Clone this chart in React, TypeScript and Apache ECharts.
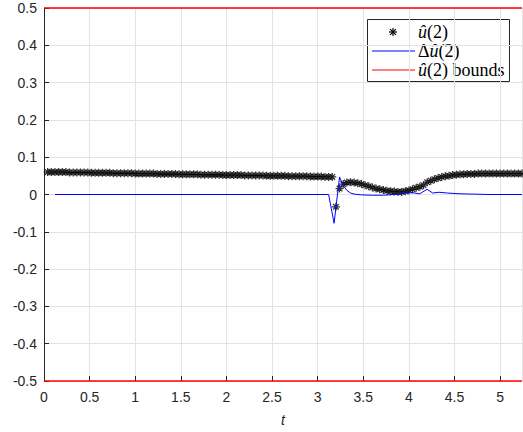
import React, { useEffect, useRef } from 'react';
import * as echarts from 'echarts';

// sample times of the û(2) markers
const uHatTimes = [
  0.04, 0.08, 0.12, 0.16, 0.2, 0.24, 0.28, 0.32, 0.36, 0.4,
  0.44, 0.48, 0.52, 0.56, 0.6, 0.64, 0.68, 0.72, 0.76, 0.8,
  0.84, 0.88, 0.92, 0.96, 1.0, 1.04, 1.08, 1.12, 1.16, 1.2,
  1.24, 1.28, 1.32, 1.36, 1.4, 1.44, 1.48, 1.52, 1.56, 1.6,
  1.64, 1.68, 1.72, 1.76, 1.8, 1.84, 1.88, 1.92, 1.96, 2.0,
  2.04, 2.08, 2.12, 2.16, 2.2, 2.24, 2.28, 2.32, 2.36, 2.4,
  2.44, 2.48, 2.52, 2.56, 2.6, 2.64, 2.68, 2.72, 2.76, 2.8,
  2.84, 2.88, 2.92, 2.96, 3.0, 3.04, 3.08, 3.12, 3.16,
  3.2, 3.24, 3.28, 3.32, 3.36, 3.4, 3.44, 3.48,
  3.52, 3.56, 3.6, 3.64, 3.68, 3.72, 3.76, 3.8, 3.84, 3.88, 3.92, 3.96,
  4.0, 4.04, 4.08, 4.12, 4.16, 4.2, 4.24, 4.28, 4.32, 4.36, 4.4, 4.44, 4.48,
  4.52, 4.56, 4.6, 4.64, 4.68, 4.72, 4.76, 4.8, 4.84, 4.88, 4.92, 4.96, 5.0,
  5.04, 5.08, 5.12, 5.16, 5.2, 5.24,
];
const uHatValues = [
  0.060, 0.060, 0.060, 0.060, 0.060, 0.060, 0.059, 0.059, 0.059, 0.059,
  0.059, 0.059, 0.058, 0.058, 0.058, 0.058, 0.058, 0.058, 0.057, 0.057,
  0.057, 0.057, 0.057, 0.057, 0.056, 0.056, 0.056, 0.056, 0.056, 0.056,
  0.055, 0.055, 0.055, 0.055, 0.055, 0.055, 0.054, 0.054, 0.054, 0.054,
  0.054, 0.054, 0.053, 0.053, 0.053, 0.053, 0.053, 0.053, 0.052, 0.052,
  0.052, 0.052, 0.052, 0.052, 0.051, 0.051, 0.051, 0.051, 0.051, 0.051,
  0.050, 0.050, 0.050, 0.050, 0.050, 0.050, 0.049, 0.049, 0.049, 0.049,
  0.049, 0.049, 0.048, 0.048, 0.048, 0.048, 0.047, 0.047, 0.047,
  -0.033, 0.016, 0.028, 0.032, 0.033, 0.032, 0.030, 0.028,
  0.025, 0.022, 0.019, 0.016, 0.014, 0.012, 0.010, 0.009, 0.008, 0.007, 0.007, 0.009,
  0.011, 0.014, 0.018, 0.021, 0.025, 0.033, 0.037, 0.041, 0.044, 0.047, 0.049, 0.050, 0.052,
  0.053, 0.054, 0.054, 0.055, 0.055, 0.055, 0.056, 0.056, 0.056, 0.056, 0.056, 0.056, 0.056,
  0.056, 0.056, 0.056, 0.056, 0.056, 0.056,
];

// Δû(2)
const deltaTimes = [0.12, 3.12, 3.18, 3.24, 3.28, 3.32, 3.36, 3.4, 3.48, 3.6, 3.72, 3.84, 3.92, 4.01, 4.06, 4.12, 4.2, 4.26, 4.33, 4.42, 4.55, 4.7, 4.9, 5.24];
const deltaValues = [0, 0, -0.077, 0.047, 0.024, 0.011, 0.004, 0.001, -0.001, -0.002, -0.002, 0, 0.003, 0.006, 0.004, 0.002, 0.014, 0.004, 0.006, 0.004, 0.002, 0.001, 0, 0];

// bounds
const boundTimes = [0, 5.24];
const upperBound = 0.5;
const lowerBound = -0.5;

const X_MIN = 0;
const X_MAX = 5.24;

const ASTERISK = 'path://M10 0L10 20M0 10L20 10M2.93 2.93L17.07 17.07M17.07 2.93L2.93 17.07';

const AXIS_COLOR = '#262626';
const GRID_COLOR = '#e3e3e3';
const SANS = '"Liberation Sans", Arial, sans-serif';
const SERIF = '"Liberation Serif", "Times New Roman", serif';

function buildOption() {
  const uHatData = uHatTimes.map((t, i) => [t, uHatValues[i]]);
  const deltaData = deltaTimes.map((t, i) => [t, deltaValues[i]]);
  const upperData = boundTimes.map((t) => [t, upperBound]);
  const lowerData = boundTimes.map((t) => [t, lowerBound]);

  const legendX = 367.5;
  const legendY = 19.5;
  const rows = [32, 51, 70];
  const ast = 4;
  const textStyleBase = {
    fontFamily: SERIF,
    fontSize: 18,
    fill: '#000',
    verticalAlign: 'middle',
    align: 'left',
  };
  const rich = {
    i: { fontStyle: 'italic', fontFamily: SERIF, fontSize: 18, fill: '#000' },
  };

  return {
    animation: false,
    backgroundColor: '#ffffff',
    grid: { left: 44, right: 1, top: 8, bottom: 48 },
    xAxis: {
      type: 'value',
      min: X_MIN,
      max: X_MAX,
      interval: 0.5,
      name: 't',
      nameLocation: 'middle',
      nameGap: 32,
      nameTextStyle: { fontStyle: 'italic', fontSize: 14, fontFamily: SANS, color: AXIS_COLOR },
      axisLine: { show: false, onZero: false },
      axisTick: { show: true, inside: true, length: 5, lineStyle: { color: AXIS_COLOR } },
      splitLine: { show: true, lineStyle: { color: GRID_COLOR, width: 1 } },
      axisLabel: {
        color: AXIS_COLOR,
        fontSize: 14,
        fontFamily: SANS,
        margin: 9,
        showMaxLabel: false,
        formatter: (v: number) => {
          const r = Math.round(v * 2) / 2;
          return Math.abs(r - v) < 1e-6 ? String(r) : '';
        },
      },
    },
    yAxis: {
      type: 'value',
      min: -0.5,
      max: 0.5,
      interval: 0.1,
      axisLine: { show: true, onZero: false, lineStyle: { color: AXIS_COLOR, width: 1 } },
      axisTick: { show: true, inside: true, length: 5, lineStyle: { color: AXIS_COLOR } },
      splitLine: { show: true, lineStyle: { color: GRID_COLOR, width: 1 } },
      axisLabel: {
        color: AXIS_COLOR,
        fontSize: 14,
        fontFamily: SANS,
        margin: 7,
        formatter: (v: number) => String(Number(v.toFixed(1))),
      },
    },
    series: [
      {
        name: 'uhat',
        type: 'scatter',
        data: uHatData,
        symbol: ASTERISK,
        symbolSize: 8,
        itemStyle: { color: '#000', borderColor: '#000', borderWidth: 1.3 },
        z: 3,
      },
      {
        name: 'duhat',
        type: 'line',
        data: deltaData,
        showSymbol: false,
        symbol: 'none',
        lineStyle: { color: '#0000ff', width: 1 },
        z: 4,
      },
      {
        name: 'bounds',
        type: 'line',
        data: upperData,
        showSymbol: false,
        symbol: 'none',
        clip: false,
        lineStyle: { color: '#ff0000', width: 1.5 },
        z: 5,
      },
      {
        name: 'bounds',
        type: 'line',
        data: lowerData,
        showSymbol: false,
        symbol: 'none',
        clip: false,
        lineStyle: { color: '#ff0000', width: 1.5 },
        z: 5,
      },
    ],
    graphic: [
      {
        type: 'group',
        z: 100,
        children: [
          {
            type: 'rect',
            shape: { x: legendX, y: legendY, width: 142, height: 62 },
            style: { fill: '#ffffff', stroke: AXIS_COLOR, lineWidth: 1 },
          },
          { type: 'line', shape: { x1: 393 - ast, y1: rows[0], x2: 393 + ast, y2: rows[0] }, style: { stroke: '#000', lineWidth: 1.2 } },
          { type: 'line', shape: { x1: 393, y1: rows[0] - ast, x2: 393, y2: rows[0] + ast }, style: { stroke: '#000', lineWidth: 1.2 } },
          { type: 'line', shape: { x1: 393 - 2.9, y1: rows[0] - 2.9, x2: 393 + 2.9, y2: rows[0] + 2.9 }, style: { stroke: '#000', lineWidth: 1.2 } },
          { type: 'line', shape: { x1: 393 + 2.9, y1: rows[0] - 2.9, x2: 393 - 2.9, y2: rows[0] + 2.9 }, style: { stroke: '#000', lineWidth: 1.2 } },
          { type: 'line', shape: { x1: 372, y1: rows[1], x2: 415, y2: rows[1] }, style: { stroke: '#0000ff', lineWidth: 1 } },
          { type: 'line', shape: { x1: 372, y1: rows[2], x2: 415, y2: rows[2] }, style: { stroke: '#ff0000', lineWidth: 1 } },
          {
            type: 'text',
            x: 418,
            y: rows[0],
            style: { ...textStyleBase, text: '{i|û}(2)', rich },
          },
          {
            type: 'text',
            x: 418,
            y: rows[1],
            style: { ...textStyleBase, text: 'Δ{i|û}(2)', rich },
          },
          {
            type: 'text',
            x: 418,
            y: rows[2],
            style: { ...textStyleBase, text: '{i|û}(2) bounds', rich },
          },
        ],
      },
    ],
  };
}

export default function App() {
  const ref = useRef<HTMLDivElement>(null);
  useEffect(() => {
    if (!ref.current) return;
    const chart = echarts.init(ref.current, null, { renderer: 'svg' });
    chart.setOption(buildOption() as any);
    return () => chart.dispose();
  }, []);
  return (
    <div
      ref={ref}
      style={{ position: 'absolute', left: 0, top: 0, width: 523, height: 432 }}
    />
  );
}
